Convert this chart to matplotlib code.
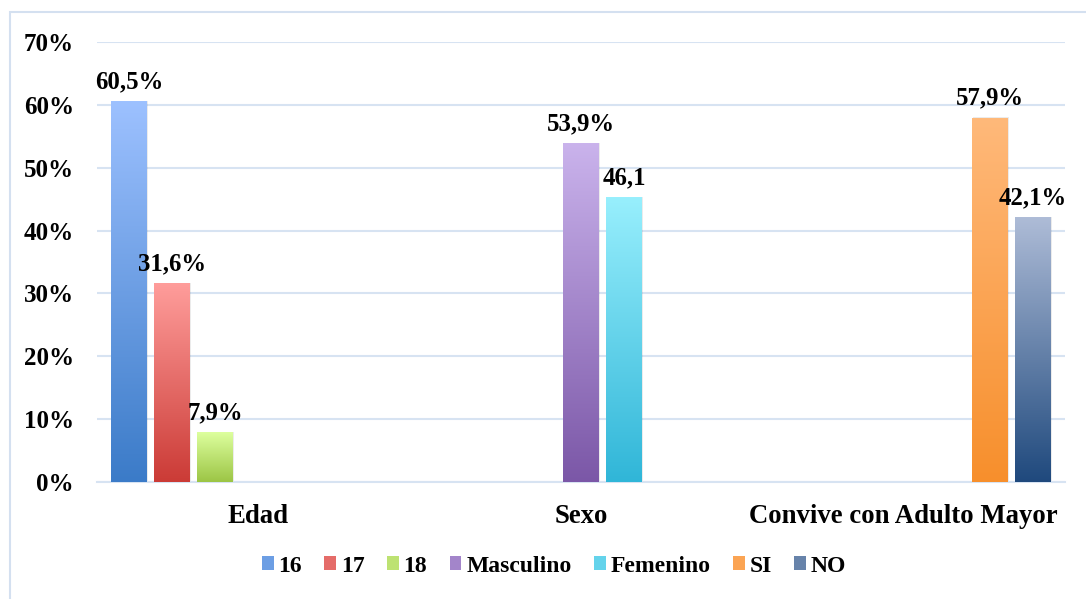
import numpy as np
import matplotlib.pyplot as plt
from matplotlib.colors import LinearSegmentedColormap
from matplotlib.patches import Patch, Rectangle

categorias = ["Edad", "Sexo", "Convive con Adulto Mayor"]
series = ["16", "17", "18", "Masculino", "Femenino", "SI", "NO"]
# one value per category for each series (0 = no bar)
valores = [
    [60.5, 0, 0],
    [31.6, 0, 0],
    [7.9, 0, 0],
    [0, 53.9, 0],
    [0, 45.2, 0],
    [0, 0, 57.9],
    [0, 0, 42.1],
]
etiquetas = [
    ["60,5%", "", ""],
    ["31,6%", "", ""],
    ["7,9%", "", ""],
    ["", "53,9%", ""],
    ["", "46,1", ""],
    ["", "", "57,9%"],
    ["", "", "42,1%"],
]
yticks = [0, 10, 20, 30, 40, 50, 60, 70]

# gradient colours (top, bottom)
colores = [
    ("#9dc1ff", "#3b7bc8"),
    ("#ff9d9b", "#cb3b36"),
    ("#ddff9e", "#9cc545"),
    ("#cab3ec", "#7b57a7"),
    ("#98effd", "#30b6d8"),
    ("#ffb97a", "#f78f2c"),
    ("#aebcd7", "#1f497d"),
]

plt.rcParams['font.family'] = ['Liberation Serif', 'DejaVu Serif']
plt.rcParams['font.weight'] = 'bold'

fig = plt.figure(figsize=(10.86, 5.99), dpi=100)
ax = fig.add_axes([97 / 1086, 1 - 482 / 599, 968 / 1086, 440 / 599])

grid_c = "#d7e3f2"
slot = 0.1333
ancho = 0.1115
x = np.arange(len(categorias))

for j, nombre in enumerate(series):
    top, bot = colores[j]
    cmap = LinearSegmentedColormap.from_list(nombre, [bot, top])
    grad = np.linspace(1, 0, 256).reshape(-1, 1)
    for i in range(len(categorias)):
        v = valores[j][i]
        if v <= 0:
            continue
        xc = x[i] + (j - 3) * slot
        x0, x1 = xc - ancho / 2, xc + ancho / 2
        # faint shadow
        ax.add_patch(Rectangle((x0 + 0.003, 0), ancho, v + 0.1, color="#000000",
                               alpha=0.08, lw=0, zorder=2))
        ax.imshow(grad, extent=[x0, x1, 0, v], aspect='auto', cmap=cmap,
                  vmin=0, vmax=1, zorder=3)
        ax.annotate(etiquetas[j][i], (xc, v), xytext=(0, 6), textcoords='offset points',
                    ha='center', va='bottom', fontsize=17.8, fontweight='bold', zorder=4)

ax.set_xlim(-0.5, 2.5)
ax.set_ylim(0, 70)
ax.set_yticks(yticks)
ax.set_yticklabels([f"{t}%" for t in yticks], fontsize=18, fontweight='bold')
ax.set_xticks(x)
ax.set_xticklabels(categorias, fontsize=19.3, fontweight='bold')
ax.tick_params(axis='y', length=0, pad=16.5)
ax.tick_params(axis='x', length=0, pad=16)
ax.yaxis.grid(True, color=grid_c, lw=1.5)
ax.set_axisbelow(True)
for s in ["top", "right", "left"]:
    ax.spines[s].set_visible(False)
ax.spines["bottom"].set_color(grid_c)
ax.spines["bottom"].set_linewidth(1.5)

handles = [Patch(facecolor=LinearSegmentedColormap.from_list("h", [b, t])(0.5), lw=0)
           for t, b in colores]
fig.legend(handles, series, loc='center', bbox_to_anchor=(0.51, 1 - 566 / 599), ncol=7,
           frameon=False, handlelength=0.5, handleheight=0.5, handletextpad=0.2,
           columnspacing=0.95, prop={'size': 17, 'weight': 'bold'})

fig.patches.append(Rectangle((10 / 1086, -0.01), 1.02, 1 - 12 / 599 + 0.01,
                             transform=fig.transFigure, fill=False,
                             edgecolor="#d4e0f0", lw=1.5))

fig.savefig("out.png", dpi=100)
